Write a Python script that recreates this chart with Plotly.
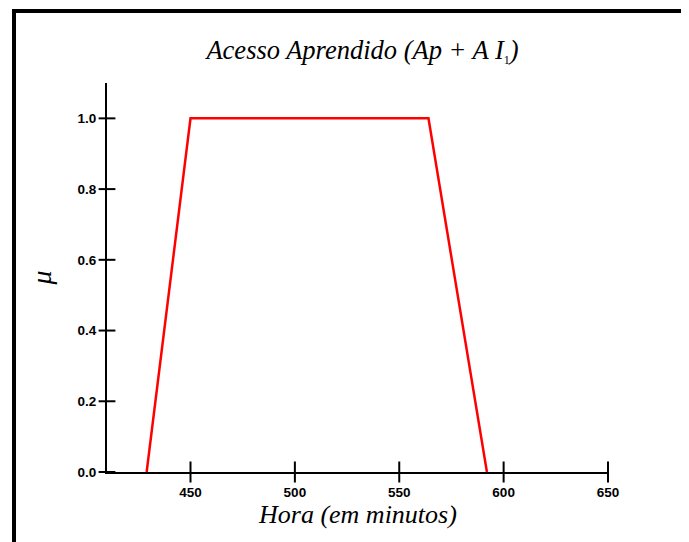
import plotly.graph_objects as go

# Data
hora = [429, 450, 564, 592]
mu = [0.0, 1.0, 1.0, 0.0]
x_ticks = [450, 500, 550, 600, 650]
y_ticks = [0.0, 0.2, 0.4, 0.6, 0.8, 1.0]
y_tick_labels = ["0.0", "0.2", "0.4", "0.6", "0.8", "1.0"]
title_text = "<i>Acesso Aprendido (Ap + A I</i><sub><span style='font-size:12px'>1</span></sub><i>)</i>"
x_title = "<i>Hora (em minutos)</i>"
y_title = "<i>μ</i>"

XR = [410, 650]
YR = [0, 1.1]

fig = go.Figure()
fig.add_trace(go.Scatter(x=hora, y=mu, mode="lines",
                         line=dict(color="#ff0000", width=2.5),
                         showlegend=False, hoverinfo="skip"))

# crossing tick marks (drawn at tick values through the axis scales)
fig.add_trace(go.Scatter(x=x_ticks, y=[YR[0]] * len(x_ticks), mode="markers",
                         marker=dict(symbol="line-ns", size=15,
                                     line=dict(color="black", width=2)),
                         cliponaxis=False, showlegend=False, hoverinfo="skip"))
fig.add_trace(go.Scatter(x=[XR[0]] * len(y_ticks), y=y_ticks, mode="markers",
                         marker=dict(symbol="line-ew", size=12,
                                     line=dict(color="black", width=2)),
                         cliponaxis=False, showlegend=False, hoverinfo="skip"))

tickfont = dict(family="Liberation Sans, Arial", size=13.5, color="black")
serif = "Liberation Serif, Times New Roman"
common = dict(showgrid=False, zeroline=False, showline=True, linecolor="black",
              linewidth=2, ticks="", fixedrange=True)

fig.update_layout(
    width=689, height=542,
    margin=dict(l=99, r=89, t=75, b=78),
    paper_bgcolor="white", plot_bgcolor="white",
    title=dict(text=title_text, x=0.51, xanchor="center", xref="paper",
               y=1.0, yref="container", yanchor="top", pad=dict(t=32),
               font=dict(family=serif, size=26.5, color="black")),
    xaxis=dict(range=XR, tickvals=x_ticks, ticktext=[f"<b>{v}</b>" for v in x_ticks],
               tickfont=tickfont, ticklabelstandoff=7, **common),
    yaxis=dict(range=YR, tickvals=y_ticks, ticktext=[f"<b>{t}</b>" for t in y_tick_labels],
               tickfont=tickfont, ticklabelstandoff=6,
               title=dict(text=y_title, standoff=18,
                          font=dict(family=serif, size=28, color="black")),
               **common),
    annotations=[dict(text=x_title, xref="paper", yref="paper", x=0.5, y=-0.0694,
                      xanchor="center", yanchor="top", showarrow=False, borderpad=0,
                      font=dict(family=serif, size=26, color="black"))],
    shapes=[dict(type="rect", xref="paper", yref="paper",
                 x0=-0.1856, y0=-0.6, x1=1.6, y1=1.185,
                 line=dict(color="black", width=4), layer="above")],
)

fig.write_html("out.html")
